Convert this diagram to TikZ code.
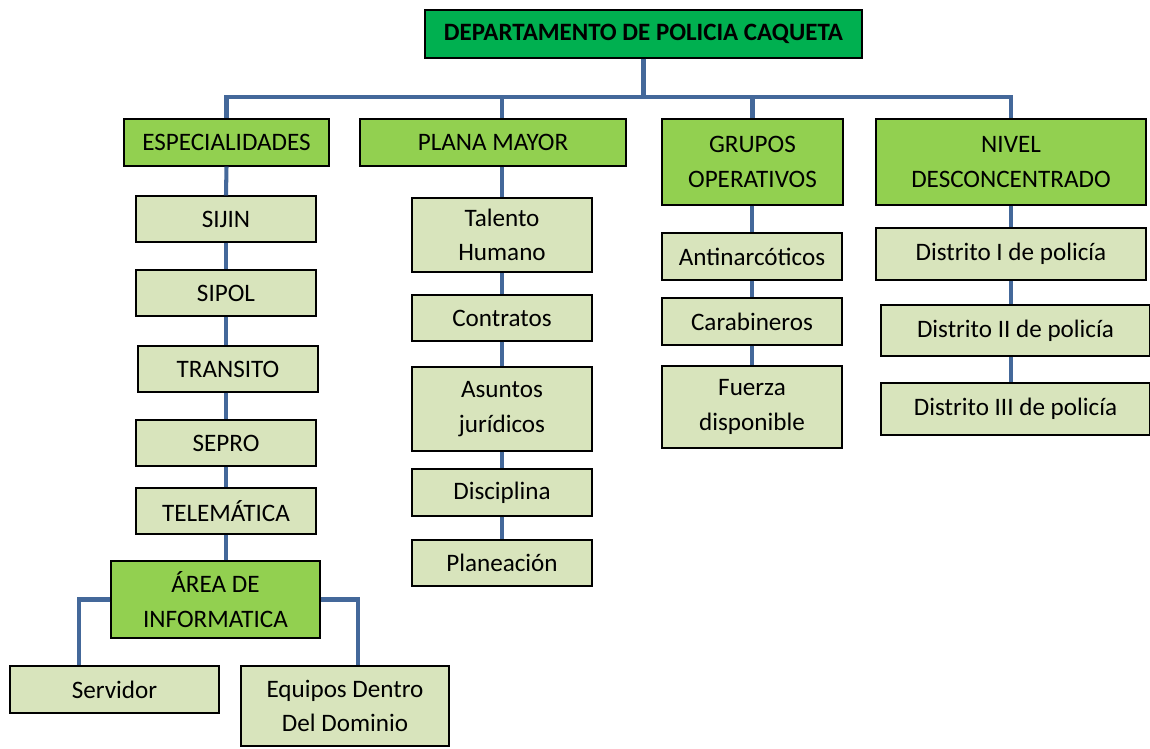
\documentclass[tikz,border=0pt]{standalone}
\usepackage{fontspec}
\setmainfont{Carlito}
\usepackage{tikz}
\usetikzlibrary{positioning}
\definecolor{verdeosc}{RGB}{0,176,80}
\definecolor{verdemed}{RGB}{146,208,80}
\definecolor{verdecla}{RGB}{216,228,188}
\definecolor{linea}{RGB}{68,104,154}
\tikzset{
	% caja base
	caja/.style={
		draw=black,
		line width=0.8pt,
		align=center,
		inner sep=2pt,
		font=\fontsize{14.3}{19.5}\selectfont
	}, %
	% nivel superior
	jefe/.style={
		caja,
		fill=verdeosc,
		font=\fontsize{14.2}{19}\selectfont\bfseries
	}, %
	% dependencias
	grupo/.style={
		caja,
		fill=verdemed
	}, %
	% unidades
	unidad/.style={
		caja,
		fill=verdecla,
		minimum width=3.6cm,
		minimum height=0.92cm
	}, %
	% conectores
	rama/.style={
		draw=linea,
		line width=2.3pt
	}
}

\begin{document}
\begin{tikzpicture}[x=0.02cm, y=-0.02cm]
			\useasboundingbox (0,0) rectangle (1150,748);
			
			% cabeza
			\node[jefe, minimum width=8.74cm, minimum height=0.96cm] (depto) at (643.5,34) {DEPARTAMENTO DE POLICIA CAQUETA};
			
			% dependencias
			\node[grupo, minimum width=4.1cm, minimum height=0.94cm] (esp) at (226.5,142.5) {ESPECIALIDADES};
			\node[grupo, minimum width=5.32cm, minimum height=0.94cm] (plana) at (493,142.5) {PLANA MAYOR};
			\node[grupo, minimum width=3.62cm, minimum height=1.72cm] (grupos) at (752.5,162) {GRUPOS\\OPERATIVOS};
			\node[grupo, minimum width=5.4cm, minimum height=1.72cm] (nivel) at (1011,162) {NIVEL\\DESCONCENTRADO};
			
			% especialidades
			\node[unidad] (sijin) at (226,219) {SIJIN};
			\node[unidad] (sipol) at (226,293) {SIPOL};
			\node[unidad] (transito) at (228,369) {TRANSITO};
			\node[unidad] (sepro) at (226,443) {SEPRO};
			\node[unidad] (telematica) at (226,511) {TELEMÁTICA};
			\node[grupo, minimum width=4.18cm, minimum height=1.54cm] (area) at (215.5,599.5) {ÁREA DE\\INFORMATICA};
			\node[unidad, minimum width=4.18cm, minimum height=0.94cm] (servidor) at (114.5,689.5) {Servidor};
			\node[unidad, minimum width=4.16cm, minimum height=1.6cm] (equipos) at (345,706) {Equipos Dentro\\Del Dominio};
			
			% plana mayor
			\node[unidad, minimum height=1.48cm] (talento) at (502,235) {Talento\\Humano};
			\node[unidad] (contratos) at (502,318) {Contratos};
			\node[unidad, minimum height=1.68cm] (asuntos) at (502,409) {Asuntos\\jurídicos};
			\node[unidad, minimum height=0.94cm] (disciplina) at (502,492.5) {Disciplina};
			\node[unidad] (planeacion) at (502,563) {Planeación};
			
			% grupos operativos
			\node[unidad, minimum height=0.94cm] (antinarc) at (752,256.5) {Antinarcóticos};
			\node[unidad, minimum height=0.94cm] (carab) at (752,321.5) {Carabineros};
			\node[unidad, minimum height=1.64cm] (fuerza) at (752,407) {Fuerza\\disponible};
			
			% nivel desconcentrado
			\node[unidad, minimum width=5.4cm, minimum height=1.04cm] (dist1) at (1011,254) {Distrito I de policía};
			\node[unidad, minimum width=5.38cm, minimum height=1.02cm] (dist2) at (1015.5,330.5) {Distrito II de policía};
			\node[unidad, minimum width=5.38cm, minimum height=1.04cm] (dist3) at (1015.5,409) {Distrito III de policía};
			
			% barra principal
			\coordinate (bus) at (643.5,97);
			\draw[rama] (depto.south) -- (bus);
			\draw[rama] (bus) -| (esp.north);
			\draw[rama] (bus) -| (talento.north |- plana.north);
			\draw[rama] (bus) -| (grupos.north);
			\draw[rama] (bus) -| (nivel.north);
			
			% cadena especialidades
			\draw[rama] (esp.south) -- (sijin.north);
			\draw[rama] (sijin.south) -- (sipol.north);
			\draw[rama] (sipol.south) -- (sipol.south |- transito.north);
			\draw[rama] (transito.south -| sepro.north) -- (sepro.north);
			\draw[rama] (sepro.south) -- (telematica.north);
			\draw[rama] (telematica.south) -- (telematica.south |- area.north);
			\draw[rama] (area.west) -| ([xshift=-0.71cm]servidor.north);
			\draw[rama] (area.east) -| ([xshift=0.26cm]equipos.north);
			
			% cadena plana mayor
			\draw[rama] (talento.north |- plana.south) -- (talento.north);
			\draw[rama] (talento.south) -- (contratos.north);
			\draw[rama] (contratos.south) -- (asuntos.north);
			\draw[rama] (asuntos.south) -- (disciplina.north);
			\draw[rama] (disciplina.south) -- (planeacion.north);
			
			% cadena grupos
			\draw[rama] (antinarc.north |- grupos.south) -- (antinarc.north);
			\draw[rama] (antinarc.south) -- (carab.north);
			\draw[rama] (carab.south) -- (fuerza.north);
			
			% cadena distritos
			\draw[rama] (nivel.south) -- (dist1.north);
			\draw[rama] (dist1.south) -- (dist1.south |- dist2.north);
			\draw[rama] (dist1.south |- dist2.south) -- (dist1.south |- dist3.north);
		\end{tikzpicture}
\end{document}
